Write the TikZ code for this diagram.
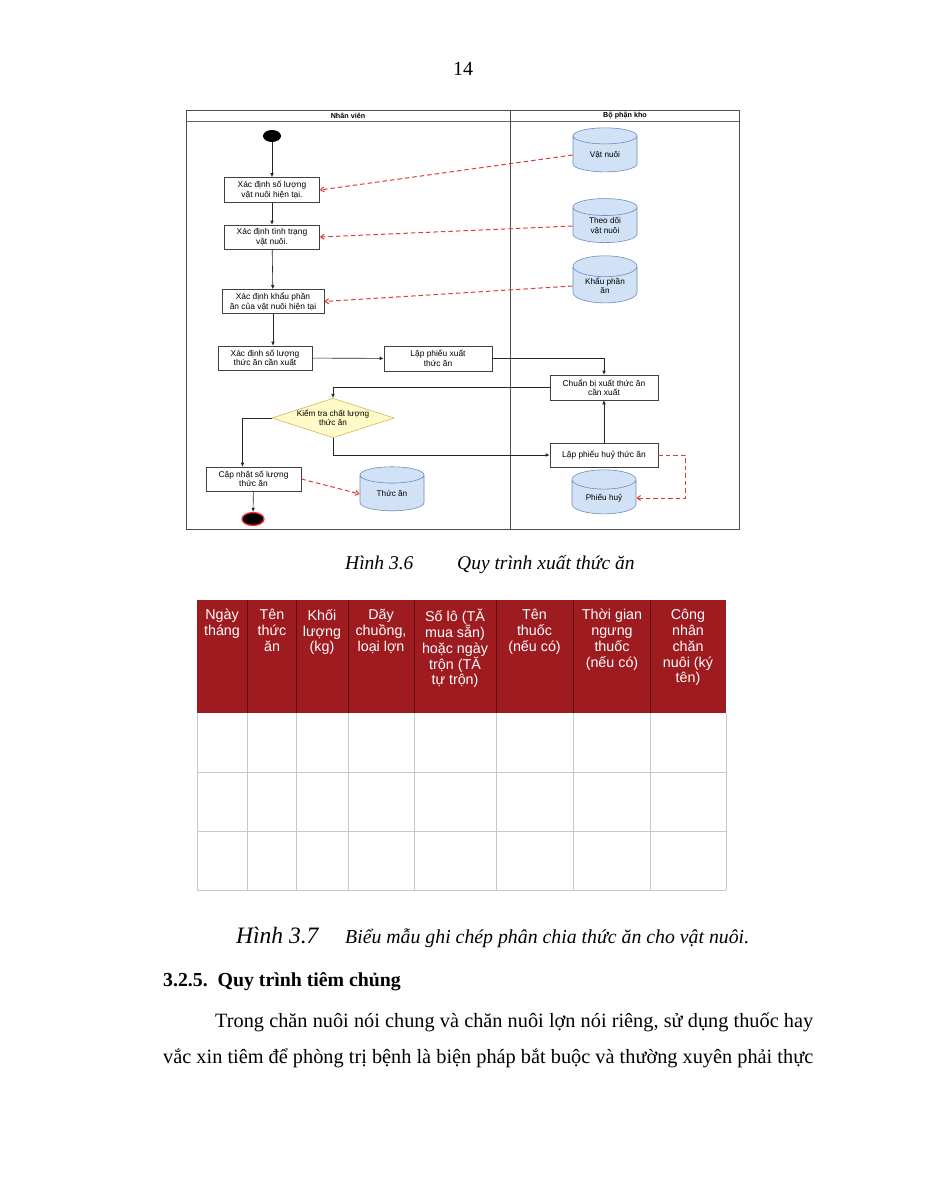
\documentclass[tikz,border=0pt]{standalone}
\usepackage{fontspec}
\setmainfont{Liberation Serif}
\newfontfamily\diag{Liberation Sans}
\usetikzlibrary{shapes.geometric,arrows.meta}
\definecolor{tabred}{RGB}{158,27,32}
\definecolor{cylf}{RGB}{210,226,246}
\definecolor{cylb}{RGB}{110,140,190}
\definecolor{diaf}{RGB}{255,250,200}
\definecolor{diab}{RGB}{214,182,86}
\definecolor{depred}{RGB}{222,60,60}
\definecolor{gridc}{RGB}{200,200,200}
\begin{document}
\begin{tikzpicture}[x=1pt,y=-1pt,
  act/.style={draw=black!75, fill=white, line width=0.6, align=center, inner sep=1,
    font=\diag\fontsize{8.4}{9.6}\selectfont},
  store/.style={cylinder, shape border rotate=90, aspect=0.5, draw=cylb, fill=cylf,
    line width=0.6, minimum width=64, minimum height=44, inner sep=1, align=center,
    font=\diag\fontsize{8.2}{9.4}\selectfont},
  lanehead/.style={font=\diag\bfseries\fontsize{7.2}{8}\selectfont, inner sep=0},
  flow/.style={-{Latex[length=4,width=3.6]}, line width=0.6, draw=black!85},
  dep/.style={-{Straight Barb[length=3.5,width=5]}, dashed, dash pattern=on 4.5pt off 3pt, line width=1, draw=depred},
  hdr/.style={text=white, align=center, anchor=north, inner sep=0,
    font=\diag\fontsize{14.3}{15.8}\selectfont},
  body/.style={anchor=base west, inner sep=0, font=\fontsize{20.3}{24}\selectfont}
]
\useasboundingbox[fill=white] (0,0) rectangle (927,1200);

% page number
\node[inner sep=0, font=\fontsize{20}{24}\selectfont, anchor=base] (pg) at (463,75) {14};

% ---------- swimlanes ----------
\draw[line width=0.7, draw=black!70] (186,110) rectangle (739,529);
\draw[line width=0.6, draw=black!60] (186,121) -- (739,121);
\draw[line width=0.7, draw=black!70] (510,110) -- (510,529);
\node[lanehead] (hl) at (348,115.5) {Nhân viên};
\node[lanehead] (hr) at (625,115.5) {Bộ phận kho};

% ---------- nodes ----------
\node[ellipse, fill=black, inner sep=0, minimum width=18, minimum height=12] (start) at (272,136) {};
\node[act, minimum width=95, minimum height=25] (b1) at (272,190) {Xác định số lượng\\vật nuôi hiện tại.};
\node[act, minimum width=95, minimum height=24] (b2) at (272,237) {Xác định tình trạng\\vật nuôi.};
\node[act, minimum width=102, minimum height=24] (b3) at (273,301.5) {Xác định khẩu phần\\ăn của vật nuôi hiện tại};
\node[act, minimum width=94, minimum height=24] (b4) at (265,358) {Xác định số lượng\\thức ăn cần xuất};
\node[act, minimum width=108, minimum height=25] (b5) at (438,358.5) {Lập phiếu xuất\\thức ăn};
\node[act, minimum width=108, minimum height=25] (b6) at (604,387.5) {Chuẩn bị xuất thức ăn\\cần xuất};
\node[act, minimum width=108, minimum height=24] (b7) at (604,455) {Lập phiếu huỷ thức ăn};
\node[diamond, aspect=3.1, draw=diab, fill=diaf, line width=0.6, inner sep=0,
  minimum width=117, minimum height=38, align=center,
  font=\diag\fontsize{8.2}{9.4}\selectfont] (dia) at (333,418) {Kiểm tra chất lượng\\thức ăn};
\node[act, minimum width=95, minimum height=24] (b8) at (253.5,479) {Cập nhật số lượng\\thức ăn};
\node[ellipse, fill=black, draw=red!80, line width=1.3, inner sep=0,
  minimum width=22, minimum height=13] (end) at (253,519) {};

\node[store] (c1) at (605,155) {Vật nuôi};
\node[store] (c2) at (605,226) {Theo dõi\\vật nuôi};
\node[store] (c3) at (605,286) {Khẩu phần\\ăn};
\node[store] (c4) at (392,494) {Thức ăn};
\node[store] (c5) at (604,498) {Phiếu huỷ};

% ---------- connectors ----------
\draw[flow] (start) -- (b1);
\draw[flow] (b1) -- (b2);
\draw[flow] (b2) -- (b3);
\draw[flow] (b3.south) -- (b3.south |- b4.north);
\draw[flow] (b4) -- (b5);
\draw[flow] (b5.east) -| (b6.north);
\draw[flow] (b6.west) -| (dia.north);
\draw[flow] (dia.west) -| ([xshift=-11pt]b8.north);
\draw[flow] (dia.south) |- (b7.west);
\draw[flow] (b7) -- (b6);
\draw[flow] (b8) -- (end);

\draw[dep] (c1.west) -- (b1.east);
\draw[dep] (c2.west) -- (b2.east);
\draw[dep] (c3.west) -- (b3.east);
\draw[dep] (b8.east) -- (c4.west);
\draw[dep] (b7.east) -- ++(27,0) |- (c5.east);

% caption 3.6
\node[inner sep=0, anchor=base west, font=\itshape\fontsize{19.5}{23}\selectfont] (cap6a) at (345,569) {Hình 3.6};
\node[inner sep=0, anchor=base west, font=\itshape\fontsize{19.5}{23}\selectfont] (cap6b) at (457,569) {Quy trình xuất thức ăn};

% ---------- table ----------
\fill[tabred] (197,600) rectangle (726,713);
\foreach \yy in {772,831,890} \draw[gridc, line width=0.9] (197,\yy) -- (726,\yy);
\draw[gridc, line width=0.9] (197,713) -- (197,890);
\draw[gridc, line width=0.9] (726,713) -- (726,890);
\foreach \xx in {247.5,296.5,348,414,496,573,650.5}
  \draw[gridc, line width=0.9] (\xx,713) -- (\xx,890);
\foreach \xx in {247.5,296.5,348,414,496,573,650.5}
  \draw[black!40!tabred, line width=0.6] (\xx,600) -- (\xx,713);

\node[hdr] (h1) at (222,609) {Ngày\\tháng};
\node[hdr] (h2) at (272,609) {Tên\\thức\\ăn};
\node[hdr] (h3) at (322,609) {Khối\\lượng\\(kg)};
\node[hdr] (h4) at (381,609) {Dãy\\chuồng,\\loại lợn};
\node[hdr] (h5) at (455,609) {Số lô (TĂ\\mua sẵn)\\hoặc ngày\\trộn (TĂ\\tự trộn)};
\node[hdr] (h6) at (534.5,609) {Tên\\thuốc\\(nếu có)};
\node[hdr] (h7) at (612,609) {Thời gian\\ngưng\\thuốc\\(nếu có)};
\node[hdr] (h8) at (688,609) {Công\\nhân\\chăn\\nuôi (ký\\tên)};

% caption 3.7
\node[inner sep=0, anchor=base west, font=\itshape\fontsize{23.5}{27}\selectfont] (cap7a) at (236,943) {Hình 3.7};
\node[inner sep=0, anchor=base west, font=\itshape\fontsize{19.8}{23}\selectfont] (cap7b) at (345,943) {Biểu mẫu ghi chép phân chia thức ăn cho vật nuôi.};

% heading and paragraph
\node[body, font=\bfseries\fontsize{19.8}{23}\selectfont] (sec) at (163,986) {3.2.5.\ \ Quy trình tiêm chủng};
\node[body] (p1) at (215,1027) {\makebox[598pt][s]{Trong chăn nuôi nói chung và chăn nuôi lợn nói riêng, sử dụng thuốc hay}};
\node[body] (p2) at (163,1063) {\makebox[650pt][s]{vắc xin tiêm để phòng trị bệnh là biện pháp bắt buộc và thường xuyên phải thực}};
\end{tikzpicture}
\end{document}
